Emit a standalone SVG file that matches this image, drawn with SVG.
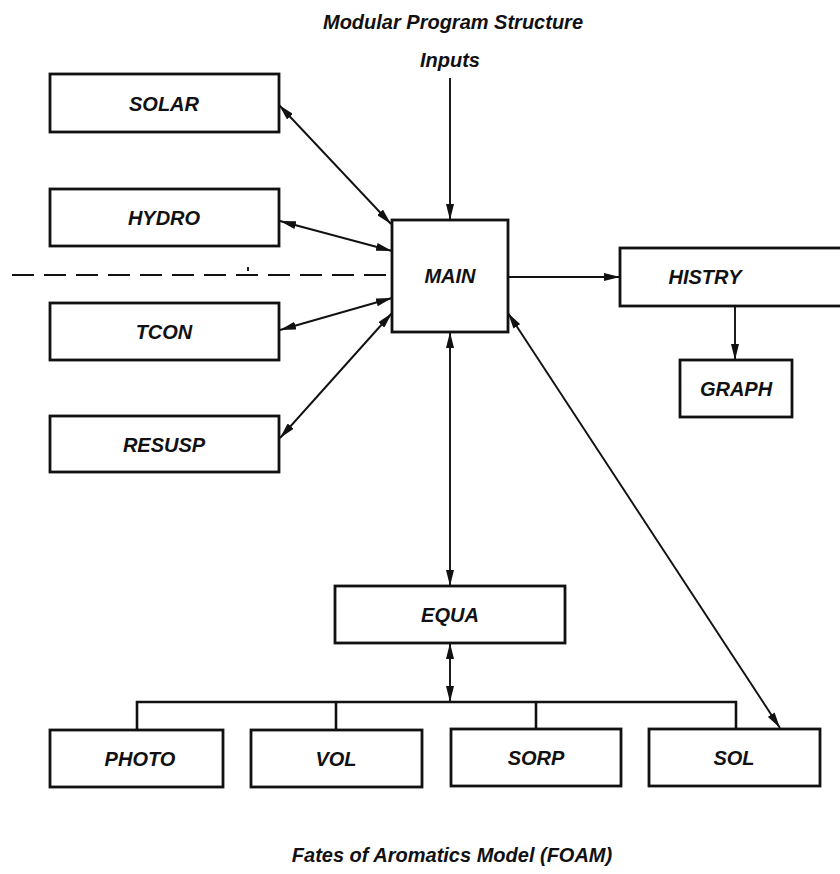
<svg xmlns="http://www.w3.org/2000/svg" width="840" height="874" viewBox="0 0 840 874">
<style>
text{font-family:"Liberation Sans",Arial,sans-serif;font-style:italic;font-weight:bold;font-size:20px;fill:#111;text-anchor:middle}
.box{fill:#fff;stroke:#111;stroke-width:2.8}
.ln{fill:none;stroke:#111;stroke-width:1.9}
.bus{fill:none;stroke:#111;stroke-width:2.6}
.dash{fill:none;stroke:#111;stroke-width:2;stroke-dasharray:22 10}
</style>
<defs>
<marker id="ah" viewBox="0 0 16 8" refX="16" refY="4" markerWidth="16" markerHeight="8" markerUnits="userSpaceOnUse" orient="auto-start-reverse">
<path d="M0,0 L16,4 L0,8 z" fill="#111"/>
</marker>
</defs>
<rect width="840" height="874" fill="#fff"/>
<text x="453" y="29">Modular Program Structure</text>
<text x="450" y="67">Inputs</text>
<text x="452" y="862">Fates of Aromatics Model (FOAM)</text>

<g id="connectors">
<line class="ln" x1="450" y1="78" x2="450" y2="220" marker-end="url(#ah)"/>
<line class="ln" x1="279" y1="105" x2="391" y2="224" marker-start="url(#ah)" marker-end="url(#ah)"/>
<line class="ln" x1="280" y1="221" x2="392" y2="251" marker-start="url(#ah)" marker-end="url(#ah)"/>
<line class="ln" x1="280" y1="330" x2="392" y2="298" marker-start="url(#ah)" marker-end="url(#ah)"/>
<line class="ln" x1="280" y1="438" x2="392" y2="313" marker-start="url(#ah)" marker-end="url(#ah)"/>
<line class="dash" x1="12" y1="275" x2="392" y2="275"/>
<line class="ln" x1="248" y1="267" x2="248" y2="271" stroke-width="1.2"/>
<line class="ln" x1="508" y1="277" x2="620" y2="277" marker-end="url(#ah)"/>
<line class="ln" x1="735" y1="306" x2="735" y2="360" marker-end="url(#ah)"/>
<line class="ln" x1="450" y1="332" x2="450" y2="586" marker-start="url(#ah)" marker-end="url(#ah)"/>
<line class="ln" x1="450" y1="643" x2="450" y2="702" marker-start="url(#ah)" marker-end="url(#ah)"/>
<line class="ln" x1="508" y1="313" x2="780" y2="728" marker-start="url(#ah)" marker-end="url(#ah)"/>
<path class="bus" d="M137,730 V702 H736 V730 M336,702 V730 M536,702 V730"/>
</g>

<g id="MAIN"><rect class="box" x="392" y="220" width="116" height="112"/><text x="450" y="283">MAIN</text></g>
<g id="SOLAR"><rect class="box" x="50" y="74" width="229" height="58"/><text x="164" y="111">SOLAR</text></g>
<g id="HYDRO"><rect class="box" x="50" y="189" width="229" height="57"/><text x="164" y="225">HYDRO</text></g>
<g id="TCON"><rect class="box" x="50" y="303" width="229" height="57"/><text x="164" y="339">TCON</text></g>
<g id="RESUSP"><rect class="box" x="50" y="416" width="229" height="56"/><text x="164" y="452">RESUSP</text></g>
<g id="HISTRY"><rect class="box" x="620" y="248" width="230" height="58"/><text x="705" y="284">HISTRY</text></g>
<g id="GRAPH"><rect class="box" x="680" y="360" width="112" height="57"/><text x="736" y="396">GRAPH</text></g>
<g id="EQUA"><rect class="box" x="335" y="586" width="230" height="57"/><text x="450" y="622">EQUA</text></g>
<g id="PHOTO"><rect class="box" x="50" y="730" width="173" height="57"/><text x="140" y="766">PHOTO</text></g>
<g id="VOL"><rect class="box" x="251" y="730" width="171" height="57"/><text x="336" y="766">VOL</text></g>
<g id="SORP"><rect class="box" x="451" y="729" width="170" height="57"/><text x="536" y="765">SORP</text></g>
<g id="SOL"><rect class="box" x="649" y="729" width="171" height="57"/><text x="734" y="765">SOL</text></g>
</svg>
